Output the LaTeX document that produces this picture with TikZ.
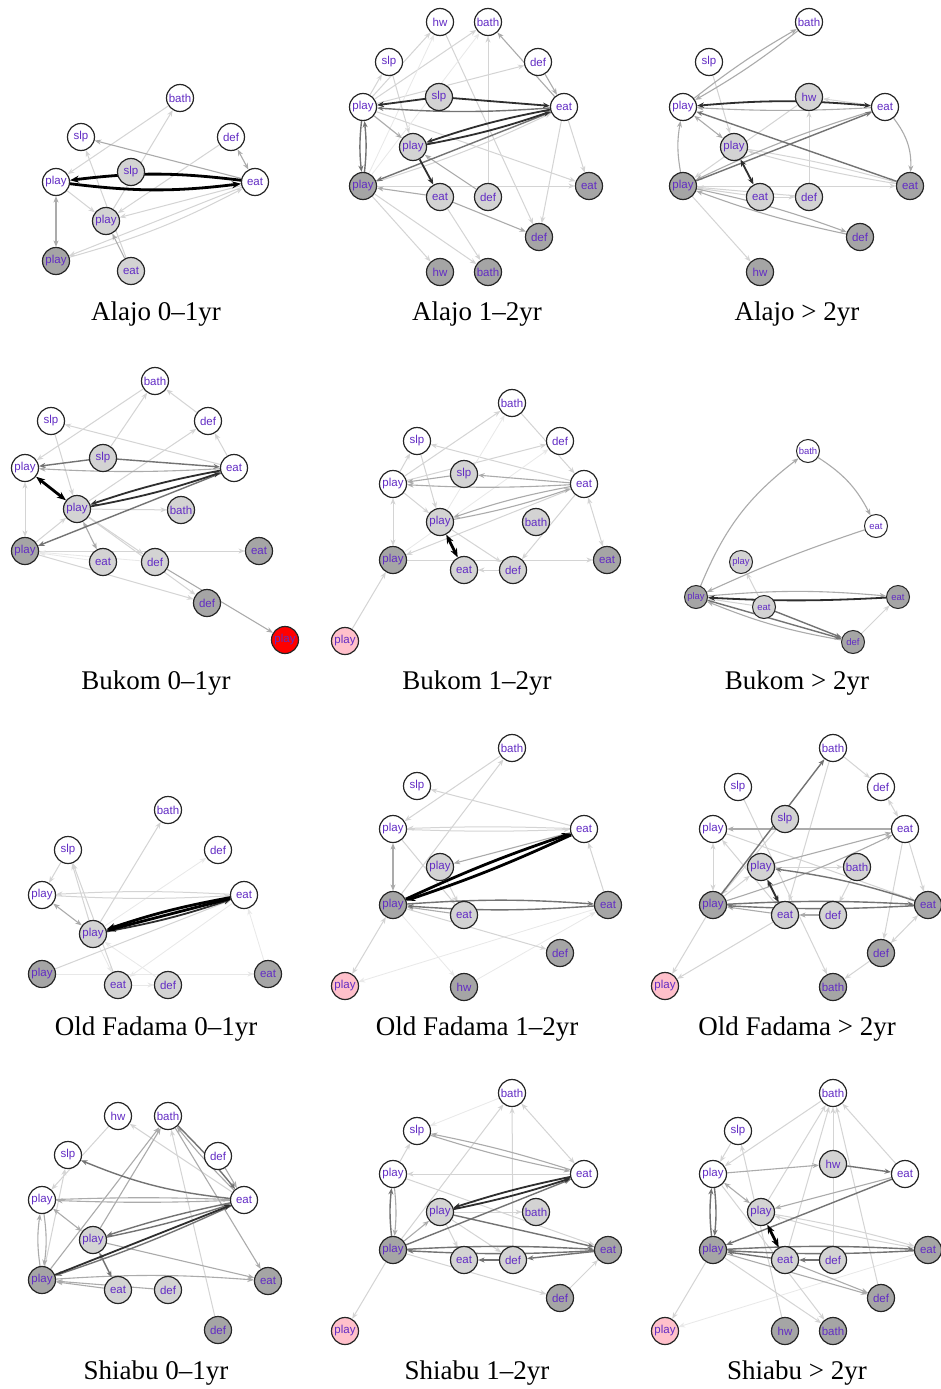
\documentclass[tikz,border=0pt]{standalone}
\usepackage{fontspec}
\setmainfont{Liberation Serif}
\newfontfamily\labfont{Liberation Sans}
\usetikzlibrary{arrows.meta,backgrounds}
\definecolor{labc}{RGB}{98,44,196}
\definecolor{lgf}{RGB}{211,211,211}
\definecolor{dgf}{RGB}{165,165,165}
\definecolor{pkf}{RGB}{255,192,203}
\definecolor{rdf}{RGB}{255,0,0}
\tikzset{
  >={Stealth[length=6.5pt,width=5pt]},
  nbase/.style={circle,draw=black!85,line width=1.2pt,minimum size=27pt,inner sep=0pt,
     font=\labfont\fontsize{11.5}{13}\selectfont,text=labc},
  wn/.style={nbase,fill=white},
  gn/.style={nbase,fill=lgf},
  dn/.style={nbase,fill=dgf},
  rn/.style={nbase,fill=rdf},
  pn/.style={nbase,fill=pkf},
  smalln/.style={minimum size=23pt,line width=1pt,font=\labfont\fontsize{9.5}{11}\selectfont},
  ttl/.style={anchor=base,font=\fontsize{27}{30}\selectfont,inner sep=0pt},
  lv1/.style={draw=black!9,line width=0.8pt},
  lv2/.style={draw=black!17,line width=1pt},
  lv3/.style={draw=black!33,line width=1.1pt},
  lv4/.style={draw=black!55,line width=1.4pt},
  lv5/.style={draw=black!82,line width=1.8pt,>={Stealth[length=7pt,width=5.5pt]}},
  lv6/.style={draw=black,line width=2.8pt,>={Stealth[length=9pt,width=7pt]}},
  a1/.style={lv1,->},a2/.style={lv2,->},a3/.style={lv3,->},
  a4/.style={lv4,->},a5/.style={lv5,->},a6/.style={lv6,->},
  b2/.style={lv2,<->},b3/.style={lv3,<->},b4/.style={lv4,<->},
  b5/.style={lv5,<->},b6/.style={lv6,<->},
}
\begin{document}
\begin{tikzpicture}[x=1pt,y=-1pt]
\useasboundingbox (0,0) rectangle (940,1389);
% ---------------- Panel A: Alajo 0-1yr
\node[wn] (Abathw) at (180,98) {bath};
\node[wn] (Aslpw) at (81,137) {slp};
\node[wn] (Adefw) at (231,137) {def};
\node[wn] (Aplayw) at (56,182) {play};
\node[gn] (Aslpg) at (131,172) {slp};
\node[wn] (Aeatw) at (255,182) {eat};
\node[gn] (Aplayg) at (106,221) {play};
\node[dn] (Aplayd) at (56,261) {play};
\node[gn] (Aeatg) at (131,271) {eat};
\node[ttl] (At) at (156,320) {Alajo 0–1yr};
% ---------------- Panel B: Alajo 1-2yr
\node[wn] (Bhww) at (440,22) {hw};
\node[wn] (Bbathw) at (488,22) {bath};
\node[wn] (Bslpw) at (389,62) {slp};
\node[wn] (Bdefw) at (538,62) {def};
\node[wn] (Bplayw) at (363,107) {play};
\node[gn] (Bslpg) at (439,97) {slp};
\node[wn] (Beatw) at (564,107) {eat};
\node[gn] (Bplayg) at (413,147) {play};
\node[dn] (Bplayd) at (363,186) {play};
\node[gn] (Beatg) at (440,197) {eat};
\node[gn] (Bdefg) at (488,197) {def};
\node[dn] (Beatd) at (589,186) {eat};
\node[dn] (Bdefd) at (539,237) {def};
\node[dn] (Bhwd) at (440,272) {hw};
\node[dn] (Bbathd) at (488,272) {bath};
\node[ttl] (Bt) at (477,320) {Alajo 1–2yr};
% ---------------- Panel C: Alajo >2yr
\node[wn] (Cbathw) at (809,22) {bath};
\node[wn] (Cslpw) at (709,62) {slp};
\node[wn] (Cplayw) at (683,107) {play};
\node[gn] (Chwg) at (809,97) {hw};
\node[wn] (Ceatw) at (885,107) {eat};
\node[gn] (Cplayg) at (734,147) {play};
\node[dn] (Cplayd) at (683,186) {play};
\node[gn] (Ceatg) at (760,197) {eat};
\node[gn] (Cdefg) at (809,197) {def};
\node[dn] (Ceatd) at (910,186) {eat};
\node[dn] (Cdefd) at (860,237) {def};
\node[dn] (Chwd) at (760,272) {hw};
\node[ttl] (Ct) at (797,320) {Alajo > 2yr};
% ---------------- Panel D: Bukom 0-1yr
\node[wn] (Dbathw) at (155,381) {bath};
\node[wn] (Dslpw) at (51,421) {slp};
\node[wn] (Ddefw) at (208,421) {def};
\node[wn] (Dplayw) at (25,468) {play};
\node[gn] (Dslpg) at (103,458) {slp};
\node[wn] (Deatw) at (234,468) {eat};
\node[gn] (Dplayg) at (77,509) {play};
\node[gn] (Dbathg) at (181,510) {bath};
\node[dn] (Dplayd) at (25,551) {play};
\node[gn] (Deatg) at (103,562) {eat};
\node[gn] (Ddefg) at (155,562) {def};
\node[dn] (Deatd) at (259,551) {eat};
\node[dn] (Ddefd) at (207,603) {def};
\node[rn] (Dplayr) at (285,640) {play};
\node[ttl] (Dt) at (156,689) {Bukom 0–1yr};
% ---------------- Panel E: Bukom 1-2yr
\node[wn] (Ebathw) at (512,403) {bath};
\node[wn] (Eslpw) at (417,441) {slp};
\node[wn] (Edefw) at (560,441) {def};
\node[wn] (Eplayw) at (393,484) {play};
\node[gn] (Eslpg) at (464,474) {slp};
\node[wn] (Eeatw) at (584,484) {eat};
\node[gn] (Eplayg) at (440,522) {play};
\node[gn] (Ebathg) at (536,522) {bath};
\node[dn] (Eplayd) at (393,560) {play};
\node[gn] (Eeatg) at (464,570) {eat};
\node[gn] (Edefg) at (513,570) {def};
\node[dn] (Eeatd) at (607,560) {eat};
\node[pn] (Eplayp) at (345,641) {play};
\node[ttl] (Et) at (477,689) {Bukom 1–2yr};
% ---------------- Panel F: Bukom >2yr
\node[wn,smalln] (Fbathw) at (808,451) {bath};
\node[wn,smalln] (Featw) at (876,526) {eat};
\node[gn,smalln] (Fplayg) at (741,562) {play};
\node[dn,smalln] (Fplayd) at (696,597) {play};
\node[gn,smalln] (Featg) at (764,607) {eat};
\node[dn,smalln] (Featd) at (898,597) {eat};
\node[dn,smalln] (Fdefd) at (853,642) {def};
\node[ttl] (Ft) at (797,689) {Bukom > 2yr};
% ---------------- Panel G: Old Fadama 0-1yr
\node[wn] (Gbathw) at (168,810) {bath};
\node[wn] (Gslpw) at (68,850) {slp};
\node[wn] (Gdefw) at (218,850) {def};
\node[wn] (Gplayw) at (42,895) {play};
\node[wn] (Geatw) at (244,895) {eat};
\node[gn] (Gplayg) at (93,934) {play};
\node[dn] (Gplayd) at (42,974) {play};
\node[gn] (Geatg) at (118,985) {eat};
\node[gn] (Gdefg) at (168,985) {def};
\node[dn] (Geatd) at (268,974) {eat};
\node[ttl] (Gt) at (156,1035) {Old Fadama 0–1yr};
% ---------------- Panel H: Old Fadama 1-2yr
\node[wn] (Hbathw) at (512,748) {bath};
\node[wn] (Hslpw) at (417,786) {slp};
\node[wn] (Hplayw) at (393,829) {play};
\node[wn] (Heatw) at (584,829) {eat};
\node[gn] (Hplayg) at (440,867) {play};
\node[dn] (Hplayd) at (393,905) {play};
\node[gn] (Heatg) at (464,915) {eat};
\node[dn] (Heatd) at (608,905) {eat};
\node[dn] (Hdefd) at (560,953) {def};
\node[pn] (Hplayp) at (345,986) {play};
\node[dn] (Hhwd) at (464,987) {hw};
\node[ttl] (Ht) at (477,1035) {Old Fadama 1–2yr};
% ---------------- Panel I: Old Fadama >2yr
\node[wn] (Ibathw) at (833,748) {bath};
\node[wn] (Islpw) at (738,787) {slp};
\node[wn] (Idefw) at (881,787) {def};
\node[wn] (Iplayw) at (713,829) {play};
\node[gn] (Islpg) at (785,819) {slp};
\node[wn] (Ieatw) at (905,829) {eat};
\node[gn] (Iplayg) at (761,867) {play};
\node[gn] (Ibathg) at (857,867) {bath};
\node[dn] (Iplayd) at (713,905) {play};
\node[gn] (Ieatg) at (785,915) {eat};
\node[gn] (Idefg) at (833,915) {def};
\node[dn] (Ieatd) at (928,905) {eat};
\node[dn] (Idefd) at (881,953) {def};
\node[pn] (Iplayp) at (665,986) {play};
\node[dn] (Ibathd) at (833,987) {bath};
\node[ttl] (It) at (797,1035) {Old Fadama > 2yr};
% ---------------- Panel J: Shiabu 0-1yr
\node[wn] (Jhww) at (118,1116) {hw};
\node[wn] (Jbathw) at (168,1116) {bath};
\node[wn] (Jslpw) at (68,1155) {slp};
\node[wn] (Jdefw) at (218,1156) {def};
\node[wn] (Jplayw) at (42,1200) {play};
\node[wn] (Jeatw) at (244,1200) {eat};
\node[gn] (Jplayg) at (93,1240) {play};
\node[dn] (Jplayd) at (42,1280) {play};
\node[gn] (Jeatg) at (118,1290) {eat};
\node[gn] (Jdefg) at (168,1290) {def};
\node[dn] (Jeatd) at (268,1281) {eat};
\node[dn] (Jdefd) at (218,1330) {def};
\node[ttl] (Jt) at (156,1379) {Shiabu 0–1yr};
% ---------------- Panel K: Shiabu 1-2yr
\node[wn] (Kbathw) at (512,1093) {bath};
\node[wn] (Kslpw) at (417,1131) {slp};
\node[wn] (Kplayw) at (393,1174) {play};
\node[wn] (Keatw) at (584,1174) {eat};
\node[gn] (Kplayg) at (440,1212) {play};
\node[gn] (Kbathg) at (536,1212) {bath};
\node[dn] (Kplayd) at (393,1250) {play};
\node[gn] (Keatg) at (464,1260) {eat};
\node[gn] (Kdefg) at (513,1260) {def};
\node[dn] (Keatd) at (608,1250) {eat};
\node[dn] (Kdefd) at (560,1298) {def};
\node[pn] (Kplayp) at (345,1331) {play};
\node[ttl] (Kt) at (477,1379) {Shiabu 1–2yr};
% ---------------- Panel L: Shiabu >2yr
\node[wn] (Lbathw) at (833,1093) {bath};
\node[wn] (Lslpw) at (738,1131) {slp};
\node[wn] (Lplayw) at (713,1174) {play};
\node[gn] (Lhwg) at (833,1164) {hw};
\node[wn] (Leatw) at (905,1174) {eat};
\node[gn] (Lplayg) at (761,1212) {play};
\node[dn] (Lplayd) at (713,1250) {play};
\node[gn] (Leatg) at (785,1260) {eat};
\node[gn] (Ldefg) at (833,1260) {def};
\node[dn] (Leatd) at (928,1250) {eat};
\node[dn] (Ldefd) at (881,1298) {def};
\node[pn] (Lplayp) at (665,1331) {play};
\node[dn] (Lhwd) at (785,1331) {hw};
\node[dn] (Lbathd) at (833,1331) {bath};
\node[ttl] (Lt) at (797,1379) {Shiabu > 2yr};

\begin{scope}[on background layer]
\fill[white] (0,0) rectangle (940,1389);
% ===== A edges
\draw[a2] (Abathw) -- (Aplayw);
\draw[a2] (Aplayg) -- (Abathw);
\draw[a3] (Aeatw) -- (Aslpw);
\draw[b3] (Adefw) -- (Aeatw);
\draw[a2] (Adefw) -- (Aplayg);
\draw[a2] (Aeatw) -- (Aplayg);
\draw[a2] (Aeatw) -- (Aplayd);
\draw[a2] (Aplayd) to[bend right=6] (Aeatw);
\draw[b3] (Aplayw) -- (Aplayd);
\draw[a2] (Aplayw) -- (Aplayg);
\draw[a2] (Aeatg) -- (Aslpw);
\draw[a3] (Aeatg) -- (Aplayg);
\draw[a6] (Aeatw) to[bend right=7] (Aplayw);
\draw[a6] (Aplayw) to[bend right=7] (Aeatw);
% ===== B edges
\draw[a2] (Bplayw) -- (Bbathw);
\draw[a2] (Bplayw) -- (Bhww);
\draw[a2] (Beatw) -- (Beatd);
\draw[a2] (Beatw) -- (Bdefd);
\draw[a2] (Bplayd) -- (Bhwd);
\draw[a2] (Bplayd) -- (Bbathd);
\draw[a2] (Beatg) -- (Bbathd);
\draw[a2] (Bplayw) -- (Beatd);
\draw[a2] (Bslpw) -- (Bplayg);
\draw[a2] (Bplayw) -- (Bslpw);
\draw[a2] (Bplayw) -- (Bdefw);
\draw[a2] (Bdefg) -- (Bbathw);
\draw[a2] (Bhww) -- (Bdefd);
\draw[a2] (Bplayd) to[bend right=4] (Beatw);
\draw[a1] (Bplayd) -- (Bbathw);
\draw[a1] (Bplayd) -- (Bhww);
\draw[a2] (Bplayd) -- (Beatd);
\draw[a3] (Beatw) -- (Bbathw);
\draw[a3] (Bdefw) -- (Beatw);
\draw[a3] (Bdefg) -- (Bplayg);
\draw[a3] (Beatg) -- (Bplayd);
\draw[a3] (Beatg) -- (Bdefd);
\draw[a3] (Bplayw) -- (Bplayg);
\draw[a4] (Bplayw) to[bend right=6] (Bplayd);
\draw[a4] (Bplayd) to[bend right=6] (Bplayw);
\draw[a4] (Beatw) -- (Bplayd);
\draw[a4] (Beatw) to[bend left=4] (Bplayw);
\draw[a5] (Bslpg) -- (Bplayw);
\draw[a5] (Bslpg) -- (Beatw);
\draw[a5] (Beatw) to[bend right=4] (Bplayg);
\draw[a5] (Bplayg) to[bend right=4] (Beatw);
\draw[a5] (Bplayg) -- (Beatg);
% ===== C edges
\draw[a2] (Ceatw) -- (Chwg);
\draw[a2] (Cplayg) to[bend left=3] (Ceatd);
\draw[a2] (Ceatd) to[bend left=3] (Cplayg);
\draw[a2] (Cplayd) -- (Ceatd);
\draw[a2] (Ceatg) -- (Cdefg);
\draw[a2] (Cdefg) -- (Chwg);
\draw[a2] (Cplayd) -- (Chwd);
\draw[a2] (Cslpw) -- (Cplayg);
\draw[a2] (Chwg) -- (Cplayd);
\draw[a2] (Cdefg) -- (Cplayd);
\draw[a2] (Ceatg) -- (Cplayd);
\draw[a3] (Ceatw) to[bend left=3] (Cplayw);
\draw[a3] (Cplayw) to[bend left=4] (Cbathw);
\draw[a3] (Cbathw) to[bend left=4] (Cplayw);
\draw[b3] (Cplayw) -- (Cplayg);
\draw[a3] (Cplayd) to[bend left=10] (Cplayw);
\draw[a3] (Ceatw) to[bend right=4] (Cplayd);
\draw[a3] (Ceatw) to[bend left=20] (Ceatd);
\draw[a3] (Cplayd) to[bend left=4] (Cdefd);
\draw[a3] (Cdefd) to[bend left=4] (Cplayd);
\draw[a4] (Cplayd) -- (Ceatw);
\draw[a4] (Ceatd) -- (Cplayw);
\draw[b5] (Cplayg) -- (Ceatg);
\draw[b5] (Cplayw) to[bend left=5] (Ceatw);
% ===== D edges
\draw[a2] (Dplayg) -- (Dbathg);
\draw[a2] (Dplayg) -- (Ddefg);
\draw[a2] (Dplayd) -- (Deatd);
\draw[a2] (Dplayg) -- (Ddefd);
\draw[a2] (Dplayd) -- (Ddefd);
\draw[a2] (Deatw) -- (Ddefw);
\draw[a2] (Ddefw) -- (Dbathw);
\draw[a2] (Dbathw) -- (Dplayw);
\draw[a2] (Dslpg) -- (Dbathw);
\draw[a2] (Deatw) -- (Dslpw);
\draw[a2] (Dslpw) -- (Dplayg);
\draw[b2] (Dplayw) -- (Dplayd);
\draw[a2] (Dplayg) -- (Ddefw);
\draw[a2] (Dplayd) -- (Dplayg);
\draw[a1] (Deatg) -- (Dplayd);
\draw[a1] (Ddefg) -- (Dplayd);
\draw[a3] (Ddefg) -- (Dplayr);
\draw[b3] (Dplayg) -- (Deatg);
\draw[a3] (Deatw) to[bend left=3] (Dplayw);
\draw[a4] (Dslpg) -- (Dplayw);
\draw[a4] (Dslpg) -- (Deatw);
\draw[a4] (Deatw) -- (Dplayd);
\draw[a5] (Deatw) to[bend right=4] (Dplayg);
\draw[a5] (Dplayg) to[bend right=4] (Deatw);
\draw[b6] (Dplayw) -- (Dplayg);
% ===== E edges
\draw[b2] (Eplayw) -- (Eplayd);
\draw[a2] (Eplayp) -- (Eplayd);
\draw[b2] (Eeatw) -- (Eeatd);
\draw[a2] (Ebathw) -- (Eeatw);
\draw[a2] (Eplayw) -- (Ebathw);
\draw[a2] (Eplayw) -- (Eslpw);
\draw[a2] (Eeatw) -- (Eslpw);
\draw[a2] (Edefg) -- (Eeatg);
\draw[a2] (Eplayd) -- (Eeatd);
\draw[a2] (Eeatw) -- (Eplayd);
\draw[a2] (Eplayw) -- (Edefw);
\draw[a2] (Eplayg) -- (Edefg);
\draw[a2] (Eplayw) -- (Eplayg);
\draw[a2] (Eslpw) -- (Eplayg);
\draw[a2] (Eeatw) -- (Edefg);
\draw[a1] (Eplayg) -- (Ebathw);
\draw[a1] (Eplayd) -- (Edefw);
\draw[a3] (Eslpg) -- (Eplayw);
\draw[a3] (Eeatw) -- (Eslpg);
\draw[a3] (Eeatw) to[bend left=3] (Eplayw);
\draw[a3] (Eeatw) to[bend right=4] (Eplayg);
\draw[a3] (Eplayg) to[bend right=4] (Eeatw);
\draw[b6] (Eplayg) -- (Eeatg);
% ===== F edges
\draw[a2] (Featg) -- (Fplayg);
\draw[a2] (Featg) -- (Fplayd);
\draw[a2] (Fdefd) -- (Featd);
\draw[a3] (Fplayd) to[bend left=15] (Fbathw);
\draw[a3] (Fbathw) to[bend left=15] (Featw);
\draw[a3] (Featw) to[bend right=3] (Fplayd);
\draw[a3] (Fplayd) to[bend left=5] (Featd);
\draw[a3] (Fdefd) to[bend left=6] (Fplayd);
\draw[a4] (Fplayd) -- (Fdefd);
\draw[a4] (Featg) -- (Fdefd);
\draw[a5] (Featd) to[bend left=3] (Fplayd);
% ===== G edges
\draw[a1] (Gplayg) -- (Gdefw);
\draw[a1] (Gplayd) -- (Geatd);
\draw[a1] (Geatd) -- (Geatw);
\draw[a1] (Geatg) -- (Gdefg);
\draw[a1] (Geatw) -- (Geatg);
\draw[a1] (Gplayg) -- (Geatg);
\draw[a1] (Gdefg) -- (Gplayg);
\draw[a2] (Geatw) to[bend right=3] (Gplayw);
\draw[a2] (Gplayw) to[bend right=3] (Geatw);
\draw[a2] (Gslpw) -- (Gplayw);
\draw[a2] (Gplayg) -- (Gslpw);
\draw[a2] (Geatg) -- (Gslpw);
\draw[a2] (Gplayg) -- (Gbathw);
\draw[a2] (Gplayd) -- (Geatw);
\draw[b3] (Gplayw) -- (Gplayg);
\draw[a5] (Gplayg) to[bend right=4] (Geatw);
\draw[a6] (Geatw) to[bend right=4] (Gplayg);
\draw[a6] (Geatw) -- (Gplayg);
% ===== H edges
\draw[a1] (Heatd) -- (Hplayp);
\draw[a1] (Hplayd) -- (Hhwd);
\draw[a1] (Hhwd) -- (Heatd);
\draw[a2] (Heatw) to[bend right=2] (Hplayw);
\draw[a2] (Hplayw) to[bend right=2] (Heatw);
\draw[a2] (Heatw) -- (Hslpw);
\draw[a2] (Hplayd) -- (Hbathw);
\draw[a2] (Hbathw) -- (Hplayw);
\draw[b2] (Hplayd) -- (Hplayp);
\draw[a2] (Heatd) -- (Heatw);
\draw[a2] (Hplayd) -- (Hdefd);
\draw[a2] (Hplayg) -- (Heatg);
\draw[a2] (Hplayw) -- (Heatg);
\draw[a3] (Heatg) -- (Hplayd);
\draw[a3] (Heatw) -- (Hplayg);
\draw[b3] (Hplayw) -- (Hplayd);
\draw[a4] (Hplayd) to[bend left=4] (Heatd);
\draw[a4] (Heatd) to[bend left=4] (Hplayd);
\draw[a6] (Hplayd) to[bend left=3] (Heatw);
\draw[a6] (Heatw) to[bend left=3] (Hplayd);
% ===== I edges
\draw[a2] (Iplayg) -- (Ibathg);
\draw[a2] (Ieatw) -- (Ieatd);
\draw[a2] (Ieatw) -- (Idefd);
\draw[b2] (Idefd) -- (Ieatd);
\draw[a2] (Idefd) -- (Ibathd);
\draw[a2] (Iplayd) -- (Iplayp);
\draw[a2] (Ieatg) -- (Iplayp);
\draw[a2] (Ibathw) -- (Idefw);
\draw[b2] (Idefw) -- (Ieatw);
\draw[b2] (Iplayw) -- (Iplayd);
\draw[a2] (Islpw) -- (Ibathd);
\draw[a2] (Islpg) -- (Iplayd);
\draw[a2] (Ibathw) -- (Ieatg);
\draw[a2] (Ibathg) -- (Idefg);
\draw[a2] (Ieatg) -- (Iplayw);
\draw[a2] (Iplayw) -- (Ieatd);
\draw[a2] (Iplayd) -- (Iplayg);
\draw[a3] (Ieatg) -- (Iplayd);
\draw[a3] (Idefg) -- (Ieatg);
\draw[a3] (Iplayd) to[bend right=4] (Ieatw);
\draw[a3] (Ieatw) -- (Iplayw);
\draw[a3] (Iplayg) -- (Ieatw);
\draw[a4] (Iplayd) -- (Ibathw);
\draw[a4] (Ieatd) to[bend right=5] (Iplayg);
\draw[a4] (Iplayd) to[bend left=3] (Ieatd);
\draw[a4] (Ieatd) to[bend left=3] (Iplayd);
\draw[b5] (Iplayg) -- (Ieatg);
% ===== J edges
\draw[a2] (Jdefd) -- (Jbathw);
\draw[a2] (Jhww) -- (Jplayw);
\draw[a2] (Jeatw) -- (Jhww);
\draw[a2] (Jplayd) -- (Jslpw);
\draw[a3] (Jeatw) to[bend left=2] (Jplayw);
\draw[a3] (Jplayw) to[bend left=2] (Jeatw);
\draw[a3] (Jeatw) to[bend left=3] (Jbathw);
\draw[a3] (Jdefw) -- (Jeatw);
\draw[b3] (Jplayw) -- (Jplayg);
\draw[a3] (Jplayw) to[bend left=8] (Jplayd);
\draw[a3] (Jplayd) to[bend left=8] (Jplayw);
\draw[a3] (Jplayd) to[bend left=4] (Jeatd);
\draw[a3] (Jdefg) -- (Jplayd);
\draw[a3] (Jeatg) -- (Jplayd);
\draw[a3] (Jplayd) -- (Jbathw);
\draw[a3] (Jplayg) -- (Jbathw);
\draw[a3] (Jbathw) -- (Jeatd);
\draw[a3] (Jplayg) -- (Jeatd);
\draw[a4] (Jbathw) to[bend left=3] (Jeatw);
\draw[a4] (Jeatw) to[bend left=8] (Jslpw);
\draw[a4] (Jeatw) to[bend left=3] (Jplayd);
\draw[a4] (Jeatw) to[bend right=3] (Jplayg);
\draw[a4] (Jplayg) to[bend right=3] (Jeatw);
\draw[b4] (Jplayg) -- (Jeatg);
\draw[a5] (Jplayd) -- (Jeatw);
% ===== K edges
\draw[a1] (Kbathw) -- (Kslpw);
\draw[b2] (Kbathw) -- (Keatw);
\draw[a2] (Kplayd) -- (Kbathw);
\draw[a2] (Kdefg) -- (Kbathw);
\draw[a2] (Kplayd) -- (Kplayp);
\draw[a2] (Kplayd) -- (Kdefd);
\draw[a2] (Kdefd) -- (Keatd);
\draw[a2] (Kplayw) -- (Kslpw);
\draw[a2] (Keatw) -- (Kplayw);
\draw[a2] (Kplayg) -- (Kbathg);
\draw[a2] (Kplayw) -- (Keatd);
\draw[a2] (Kplayg) -- (Keatg);
\draw[a2] (Kplayg) -- (Kdefg);
\draw[a3] (Keatw) to[bend right=3] (Kslpw);
\draw[a3] (Kslpw) to[bend right=3] (Keatw);
\draw[a3] (Kplayd) -- (Kplayg);
\draw[a3] (Kplayw) to[bend left=6] (Kplayd);
\draw[a4] (Kplayd) to[bend left=6] (Kplayw);
\draw[a4] (Kplayd) -- (Keatw);
\draw[a4] (Kplayd) to[bend left=3] (Keatd);
\draw[a4] (Keatd) to[bend left=3] (Kplayd);
\draw[a4] (Keatd) -- (Kdefg);
\draw[a4] (Kdefg) -- (Keatg);
\draw[a4] (Kplayg) -- (Keatd);
\draw[a5] (Keatw) to[bend right=3] (Kplayg);
\draw[a5] (Kplayg) to[bend right=3] (Keatw);
% ===== L edges
\draw[a1] (Leatd) -- (Lplayp);
\draw[a2] (Lplayd) -- (Lplayp);
\draw[a2] (Lhwd) -- (Lslpw);
\draw[a2] (Lslpw) -- (Lplayw);
\draw[a2] (Lbathw) -- (Lplayw);
\draw[a2] (Lplayg) -- (Lbathw);
\draw[a2] (Leatg) -- (Lbathw);
\draw[a2] (Ldefg) -- (Lbathw);
\draw[a2] (Ldefd) -- (Lbathw);
\draw[a2] (Lplayd) -- (Lbathd);
\draw[a2] (Leatw) -- (Lbathw);
\draw[a2] (Lplayg) to[bend left=3] (Leatd);
\draw[a2] (Leatd) to[bend left=3] (Lplayg);
\draw[a2] (Lplayw) -- (Lbathd);
\draw[a3] (Lplayw) -- (Lhwg);
\draw[b3] (Lplayw) -- (Lplayg);
\draw[a3] (Leatw) -- (Lplayg);
\draw[a3] (Lplayd) -- (Ldefd);
\draw[a3] (Leatg) -- (Ldefd);
\draw[a4] (Lhwg) -- (Leatw);
\draw[a4] (Lplayd) to[bend left=6] (Lplayw);
\draw[a4] (Lplayw) to[bend left=6] (Lplayd);
\draw[a4] (Leatw) -- (Lplayd);
\draw[a4] (Leatg) -- (Lplayd);
\draw[a4] (Ldefg) -- (Leatg);
\draw[a4] (Lplayd) to[bend left=3] (Leatd);
\draw[a4] (Leatd) to[bend left=3] (Lplayd);
\draw[b6] (Lplayg) -- (Leatg);
\end{scope}
\end{tikzpicture}
\end{document}
